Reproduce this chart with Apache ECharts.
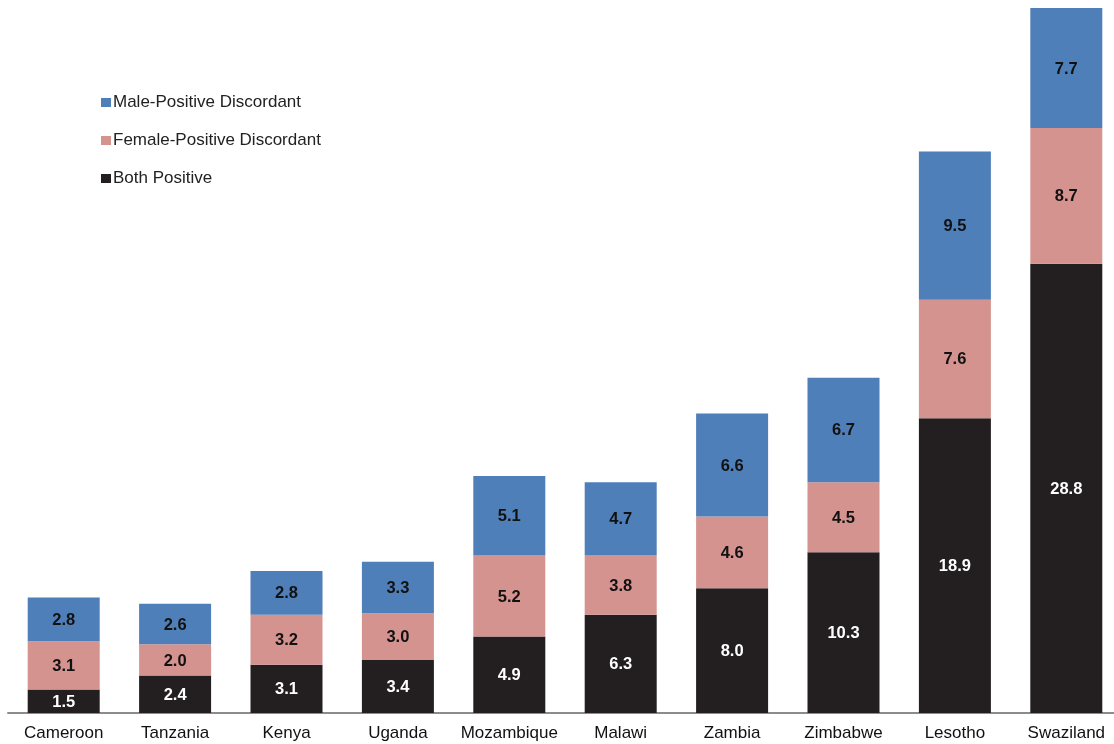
<!DOCTYPE html>
<html><head><meta charset="utf-8">
<script src="https://cdn.jsdelivr.net/npm/echarts@6/dist/echarts.min.js"></script>
<style>html,body{margin:0;padding:0;background:#fff}#c{width:1114px;height:744px}</style>
</head><body><div id="c"></div>
<script>
const categories = ['Cameroon','Tanzania','Kenya','Uganda','Mozambique','Malawi','Zambia','Zimbabwe','Lesotho','Swaziland'];
const bothPositive = [1.5,2.4,3.1,3.4,4.9,6.3,8.0,10.3,18.9,28.8];
const femalePositive = [3.1,2.0,3.2,3.0,5.2,3.8,4.6,4.5,7.6,8.7];
const malePositive = [2.8,2.6,2.8,3.3,5.1,4.7,6.6,6.7,9.5,7.7];

const chart = echarts.init(document.getElementById('c'));
const FONT = 'Liberation Sans, Arial, sans-serif';
const lbl = (color) => ({show:true, position:'inside', offset:[0,1], color:color, fontFamily:FONT, fontWeight:'bold', fontSize:16.5, formatter:p=>p.value.toFixed(1)});
chart.setOption({
  animation:false,
  grid:{left:8, width:1114, top:8, bottom:31, containLabel:false, outerBoundsMode:'none'},
  legend:{
    orient:'vertical', left:96, top:89, icon:'rect', itemWidth:10, itemHeight:9, itemGap:21,
    data:['Male-Positive Discordant','Female-Positive Discordant','Both Positive'],
    textStyle:{fontFamily:FONT, fontSize:17, color:'#222', padding:[0,0,0,-3]}
  },
  xAxis:{type:'category', data:categories,
    axisLine:{lineStyle:{color:'#8c8c8c', width:2}}, axisTick:{show:false},
    axisLabel:{interval:0, color:'#111', fontFamily:FONT, fontSize:17, margin:12}},
  yAxis:{type:'value', min:0, max:45.2, show:false, splitLine:{show:false}},
  series:[
    {name:'Both Positive', type:'bar', stack:'a', barWidth:72, data:bothPositive, itemStyle:{color:'#231f20'}, label:lbl('#ffffff')},
    {name:'Female-Positive Discordant', type:'bar', stack:'a', barWidth:72, data:femalePositive, itemStyle:{color:'#d4938f'}, label:lbl('#111111')},
    {name:'Male-Positive Discordant', type:'bar', stack:'a', barWidth:72, data:malePositive, itemStyle:{color:'#4f7fb8'}, label:lbl('#111111')}
  ]
});
</script></body></html>
